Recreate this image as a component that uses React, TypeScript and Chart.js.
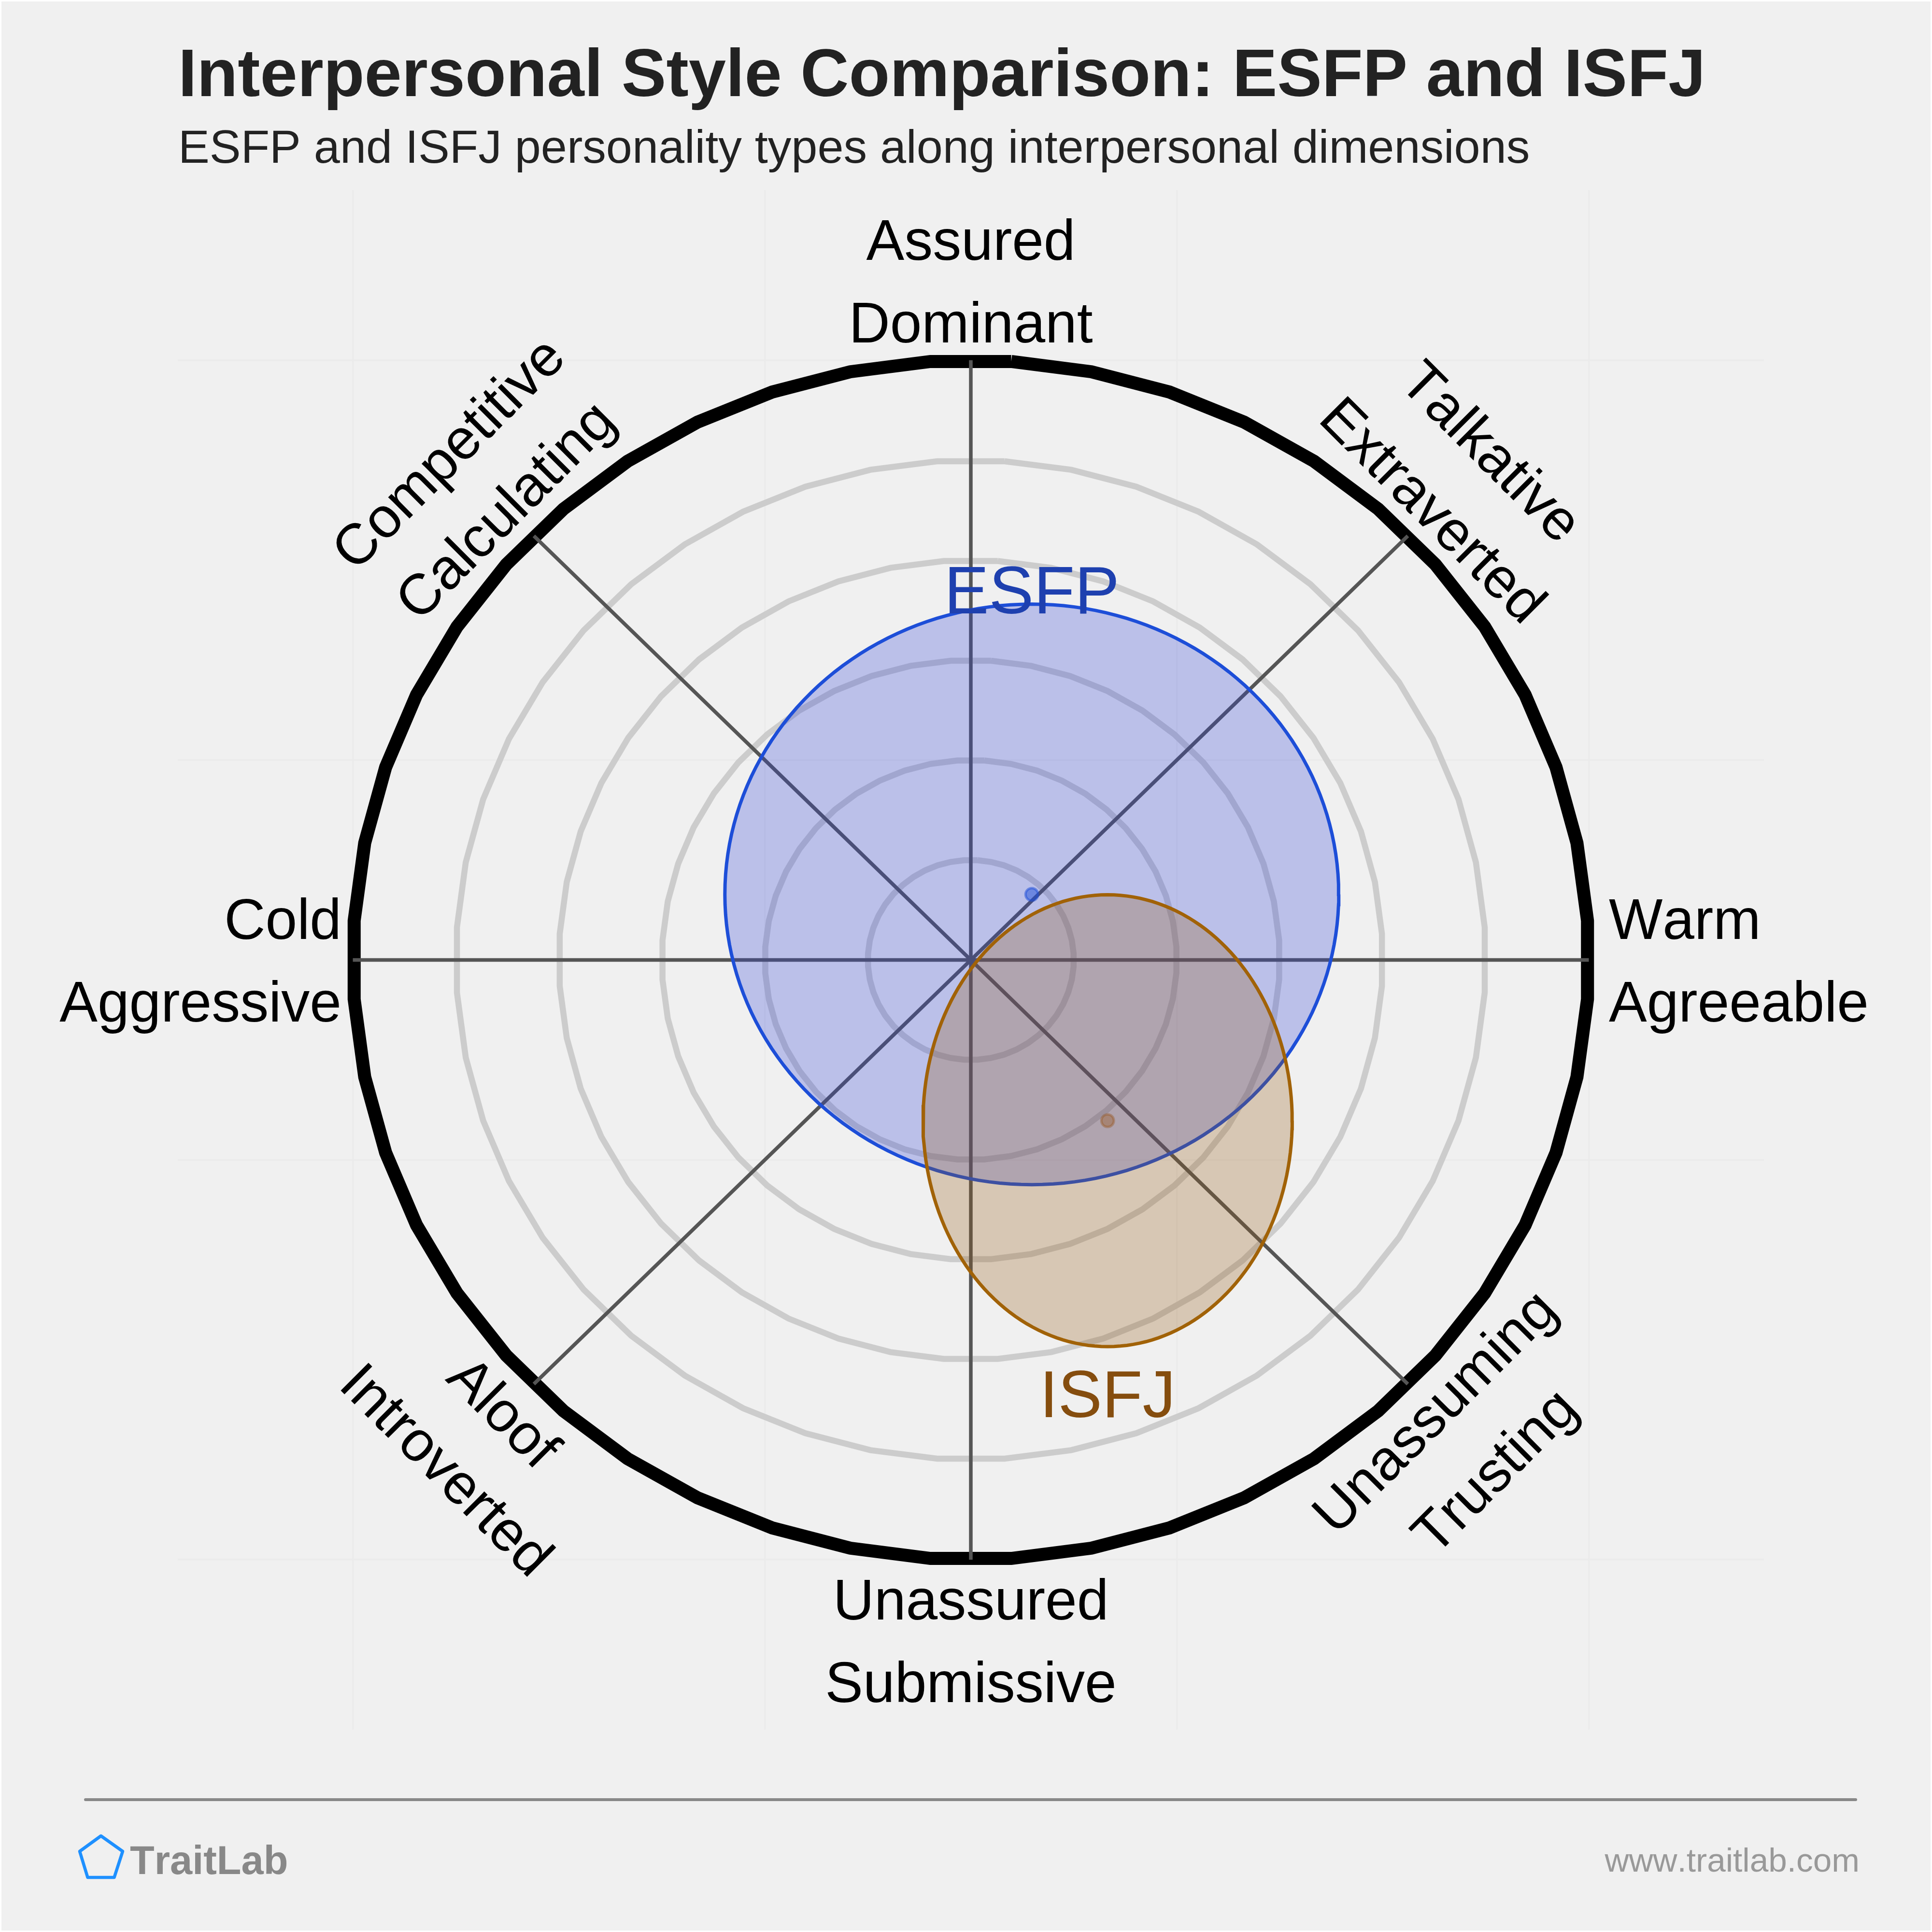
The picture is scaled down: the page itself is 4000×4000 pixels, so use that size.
import React, { useEffect, useRef } from "react";
import { Chart, registerables } from "chart.js";

Chart.register(...registerables);

const FONT = '"Liberation Sans", Arial, sans-serif';

const gridTicks = [-1.5, -0.5, 0.5, 1.5];
const ringRadii = [0.25, 0.5, 0.75, 1.0, 1.25];
const rimRadius = 1.5;
const ringSides = 48;
const axisAngles = [0, 45, 90, 135];

const typeNames = ["ESFP", "ISFJ"];
const centerX = [0.148, 0.332];
const centerY = [0.164, -0.402];
const spreadX = [0.745, 0.448];
const spreadY = [0.726, 0.565];
const lineColors = ["#1d4ed8", "#a16207"];
const fillColors = ["rgba(43,64,214,0.27)", "rgba(146,90,20,0.27)"];
const dotColors = ["rgba(29,78,216,0.5)", "rgba(150,85,30,0.38)"];
const nameColors = ["#1e40af", "#854d0e"];

const titleText = "Interpersonal Style Comparison: ESFP and ISFJ";
const subtitleText = "ESFP and ISFJ personality types along interpersonal dimensions";
const brandText = "TraitLab";
const siteText = "www.traitlab.com";

const polygon = (r: number) => {
  const pts: { x: number; y: number }[] = [];
  for (let i = 0; i <= ringSides; i++) {
    const a = ((3.75 + (360 / ringSides) * i) * Math.PI) / 180;
    pts.push({ x: r * Math.sin(a), y: r * Math.cos(a) });
  }
  return pts;
};

const ellipse = (k: number) => {
  const pts: { x: number; y: number }[] = [];
  for (let i = 0; i <= 180; i++) {
    const a = (i * 2 * Math.PI) / 180;
    pts.push({ x: centerX[k] + spreadX[k] * Math.cos(a), y: centerY[k] + spreadY[k] * Math.sin(a) });
  }
  return pts;
};

const axisLine = (deg: number) => {
  const a = (deg * Math.PI) / 180;
  const x = rimRadius * Math.cos(a);
  const y = rimRadius * Math.sin(a);
  return [{ x: -x, y: -y }, { x, y }];
};

type Lab = { t: string; x: number; y: number; r: number; a: CanvasTextAlign };
const dimensionLabels: Lab[] = [
  { t: "Assured", x: 2010, y: 496, r: 0, a: "center" },
  { t: "Dominant", x: 2010, y: 667, r: 0, a: "center" },
  { t: "Talkative", x: 3090, y: 933, r: 45, a: "center" },
  { t: "Extraverted", x: 2969, y: 1054, r: 45, a: "center" },
  { t: "Warm", x: 3331, y: 1902, r: 0, a: "left" },
  { t: "Agreeable", x: 3331, y: 2073, r: 0, a: "left" },
  { t: "Unassuming", x: 2968, y: 2920, r: -45, a: "center" },
  { t: "Trusting", x: 3092, y: 3043, r: -45, a: "center" },
  { t: "Unassured", x: 2010, y: 3311, r: 0, a: "center" },
  { t: "Submissive", x: 2010, y: 3482, r: 0, a: "center" },
  { t: "Aloof", x: 1045, y: 2922, r: 45, a: "center" },
  { t: "Introverted", x: 927, y: 3041, r: 45, a: "center" },
  { t: "Cold", x: 707, y: 1902, r: 0, a: "right" },
  { t: "Aggressive", x: 707, y: 2073, r: 0, a: "right" },
  { t: "Competitive", x: 926, y: 936, r: -45, a: "center" },
  { t: "Calculating", x: 1044, y: 1054, r: -45, a: "center" },
];

const decorPlugin = {
  id: "decor",
  beforeDraw(chart: any) {
    const c = chart.ctx;
    c.save();
    c.fillStyle = "#f0f0f0";
    c.fillRect(3, 3, 3994, 3994);
    c.restore();
  },
  afterDraw(chart: any) {
    const c = chart.ctx;
    const put = (t: string, x: number, y: number, font: string, color: string, a: CanvasTextAlign = "left", r = 0, dy = 0) => {
      c.save();
      c.translate(x, y);
      c.rotate((r * Math.PI) / 180);
      c.font = font;
      c.fontKerning = "none";
      c.fillStyle = color;
      c.textAlign = a;
      c.textBaseline = "alphabetic";
      c.fillText(t, 0, dy);
      c.restore();
    };
    put(titleText, 369, 199, `bold 138.8px ${FONT}`, "#222222");
    put(subtitleText, 369, 337, `97.2px ${FONT}`, "#222222");
    dimensionLabels.forEach((l) => put(l.t, l.x, l.y, `118px ${FONT}`, "#000000", l.a, l.r, 42));
    const xs = chart.scales.x;
    put(typeNames[0], xs.getPixelForValue(centerX[0]), 1270, `139px ${FONT}`, nameColors[0], "center");
    put(typeNames[1], xs.getPixelForValue(centerX[1]), 2934, `137px ${FONT}`, nameColors[1], "center");

    c.save();
    c.strokeStyle = "#888888";
    c.lineWidth = 6;
    c.lineCap = "round";
    c.beginPath();
    c.moveTo(177, 3726);
    c.lineTo(3842, 3726);
    c.stroke();
    c.strokeStyle = "#1e90ff";
    c.lineWidth = 6.5;
    c.lineJoin = "round";
    c.beginPath();
    c.moveTo(209, 3801);
    c.lineTo(254, 3833);
    c.lineTo(236.5, 3887);
    c.lineTo(181.5, 3887);
    c.lineTo(165, 3833);
    c.closePath();
    c.stroke();
    c.restore();
    put(brandText, 269, 3880, `bold 83px ${FONT}`, "#888888");
    put(siteText, 3850, 3875, `69.3px ${FONT}`, "#999999", "right");
  },
};

export default function App() {
  const ref = useRef<HTMLCanvasElement>(null);
  useEffect(() => {
    document.body.style.margin = "0";
    const line = (label: string, data: any[], color: string, width: number, extra: any = {}) => ({
      label,
      data,
      showLine: true,
      borderColor: color,
      borderWidth: width,
      pointRadius: 0,
      tension: 0,
      fill: false,
      clip: false,
      ...extra,
    });
    const datasets: any[] = [
      {
        label: "ISFJ centre",
        data: [{ x: centerX[1], y: centerY[1] }],
        pointRadius: 13,
        pointBackgroundColor: dotColors[1],
        pointBorderColor: dotColors[1],
        pointBorderWidth: 5,
      },
      line("ISFJ", ellipse(1), lineColors[1], 7, { fill: "shape", backgroundColor: fillColors[1] }),
      {
        label: "ESFP centre",
        data: [{ x: centerX[0], y: centerY[0] }],
        pointRadius: 13,
        pointBackgroundColor: dotColors[0],
        pointBorderColor: dotColors[0],
        pointBorderWidth: 5,
      },
      line("ESFP", ellipse(0), lineColors[0], 7, { fill: "shape", backgroundColor: fillColors[0] }),
      ...axisAngles.map((d) => line(`axis ${d}`, axisLine(d), "#555555", 7.5)),
      line("rim", polygon(rimRadius), "#000000", 27),
      ...ringRadii.map((r) => line(`ring ${r}`, polygon(r), "#cccccc", 12.5)),
    ];
    const setTicks = (scale: any) => {
      scale.ticks = gridTicks.map((value) => ({ value }));
    };
    const axis = {
      type: "linear",
      min: -1.925,
      max: 1.925,
      afterBuildTicks: setTicks,
      ticks: { display: false },
      border: { display: false },
      grid: { color: "#ebebeb", lineWidth: 3.5, drawTicks: false },
    };
    const chart = new Chart(ref.current as HTMLCanvasElement, {
      type: "scatter",
      data: { datasets },
      options: {
        animation: false,
        responsive: false,
        devicePixelRatio: 1,
        layout: { padding: { left: 368, right: 348, top: 394, bottom: 419 } },
        plugins: { legend: { display: false }, tooltip: { enabled: false }, title: { display: false } },
        scales: { x: axis, y: axis },
      } as any,
      plugins: [decorPlugin],
    });
    return () => chart.destroy();
  }, []);
  return <canvas ref={ref} width={4000} height={4000} style={{ display: "block" }} />;
}
